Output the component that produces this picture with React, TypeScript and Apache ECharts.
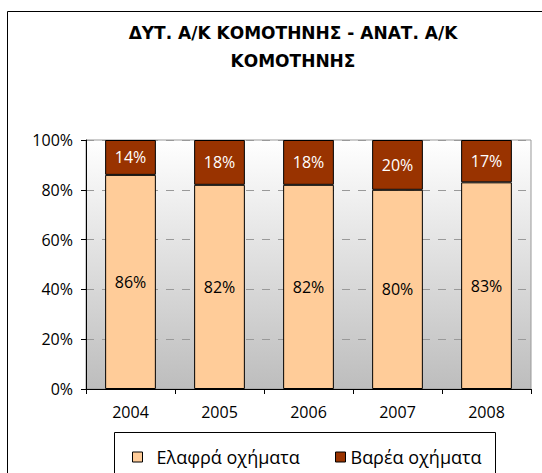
import React, { useEffect, useRef } from "react";
import * as echarts from "echarts";

const titleText = "ΔΥΤ. Α/Κ ΚΟΜΟΤΗΝΗΣ - ΑΝΑΤ. Α/Κ\nΚΟΜΟΤΗΝΗΣ";
const years = ["2004", "2005", "2006", "2007", "2008"];
const lightName = "Ελαφρά οχήματα";
const heavyName = "Βαρέα οχήματα";
const lightValues = [86, 82, 82, 80, 83];
const heavyValues = [14, 18, 18, 20, 17];

const FONT = "Open Sans";

export default function App() {
  const ref = useRef<HTMLDivElement>(null);
  useEffect(() => {
    if (!ref.current) return;
    const chart = echarts.init(ref.current, undefined, { renderer: "svg" });
    chart.setOption({
      animation: false,
      backgroundColor: "#ffffff",
      title: {
        text: titleText,
        left: 288,
        top: 14,
        textAlign: "center",
        textStyle: {
          fontFamily: "DejaVu Sans",
          fontWeight: "bold",
          fontSize: 17,
          lineHeight: 28,
          color: "#000",
        },
      },
      graphic: [
        {
          type: "rect",
          shape: { x: 7.5, y: 11.5, width: 600, height: 500 },
          style: { fill: "none", stroke: "#000", lineWidth: 1 },
          silent: true,
          z: 100,
        },
        {
          type: "rect",
          shape: { x: 114.5, y: 432.5, width: 381, height: 60 },
          style: { fill: "none", stroke: "#000", lineWidth: 1 },
          silent: true,
          z: 100,
        },
      ],
      legend: [
        {
          data: [lightName],
          left: 127,
          top: 443,
          itemWidth: 10,
          itemHeight: 10,
          icon: "rect",
          itemStyle: { borderColor: "#000", borderWidth: 1 },
          textStyle: { fontFamily: FONT, fontSize: 18, color: "#000", padding: [0, 0, 0, 9] },
        },
        {
          data: [heavyName],
          left: 330,
          top: 443,
          itemWidth: 10,
          itemHeight: 10,
          icon: "rect",
          itemStyle: { borderColor: "#000", borderWidth: 1 },
          textStyle: { fontFamily: FONT, fontSize: 18, color: "#000" },
        },
      ],
      grid: {
        left: 86,
        top: 140,
        right: 11,
        bottom: 84,
        show: true,
        borderColor: "#999",
        borderWidth: 1,
        backgroundColor: new echarts.graphic.LinearGradient(0, 0, 0, 1, [
          { offset: 0, color: "#ffffff" },
          { offset: 1, color: "#bdbdbd" },
        ]),
      },
      xAxis: {
        type: "category",
        data: years,
        axisLine: { lineStyle: { color: "#000", width: 1 } },
        axisTick: { show: true, length: 5, alignWithLabel: false, lineStyle: { color: "#000" } },
        axisLabel: { fontFamily: FONT, fontSize: 16, color: "#000", margin: 15 },
      },
      yAxis: {
        type: "value",
        min: 0,
        max: 100,
        interval: 20,
        axisLine: { show: true, lineStyle: { color: "#000", width: 1 } },
        axisTick: { show: true, length: 5, lineStyle: { color: "#000" } },
        axisLabel: {
          fontFamily: FONT,
          fontSize: 16,
          color: "#000",
          margin: 13,
          formatter: "{value}%",
        },
        splitLine: {
          show: true,
          lineStyle: { color: "#999", type: [8, 8], width: 1 },
        },
      },
      series: [
        {
          name: lightName,
          type: "bar",
          stack: "total",
          data: lightValues,
          barWidth: "57%",
          itemStyle: { color: "#FFCC99", borderColor: "#000", borderWidth: 1 },
          label: {
            show: true,
            position: "inside",
            formatter: "{c}%",
            fontFamily: FONT,
            fontSize: 16,
            color: "#000",
          },
        },
        {
          name: heavyName,
          type: "bar",
          stack: "total",
          data: heavyValues,
          barWidth: "57%",
          itemStyle: { color: "#993300", borderColor: "#000", borderWidth: 1 },
          label: {
            show: true,
            position: "inside",
            formatter: "{c}%",
            fontFamily: FONT,
            fontSize: 16,
            color: "#fff",
          },
        },
      ],
    });
    return () => chart.dispose();
  }, []);
  return (
    <div
      ref={ref}
      style={{ position: "absolute", left: 0, top: 0, width: 542, height: 473 }}
    />
  );
}
